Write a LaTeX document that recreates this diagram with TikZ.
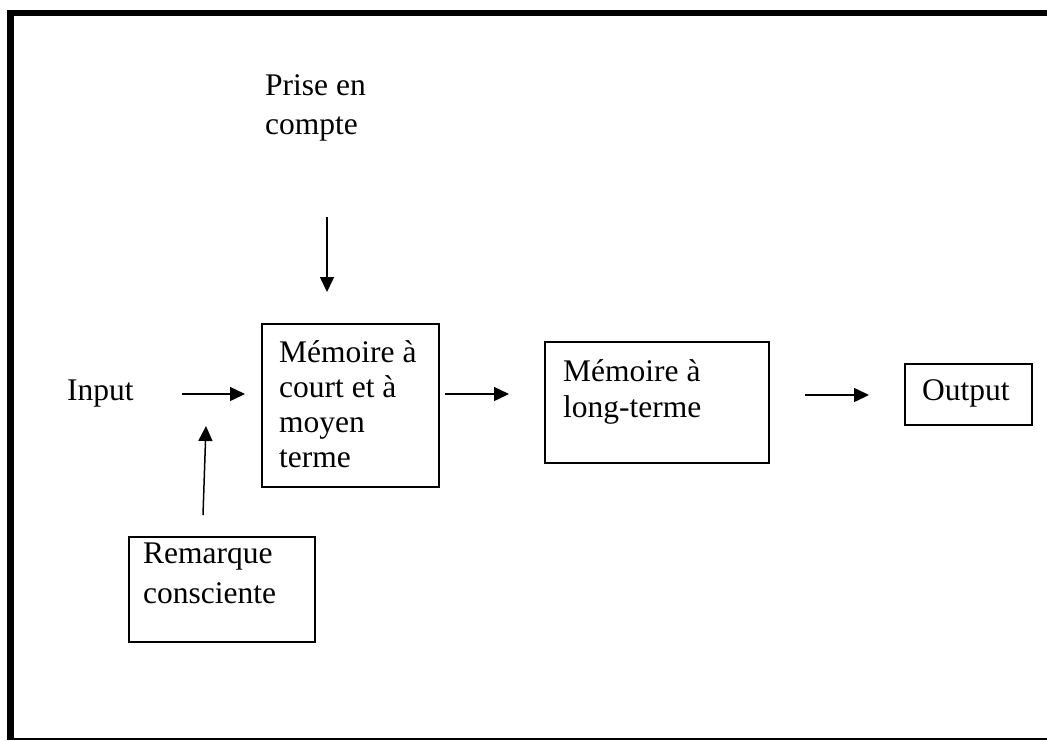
\documentclass[tikz,border=0pt]{standalone}
\usepackage{fontspec}
\setmainfont{Liberation Serif}
\usetikzlibrary{arrows.meta}

\begin{document}
\begin{tikzpicture}[x=1pt, y=-1pt,
      boite/.style={draw, line width=2pt, inner sep=0pt, anchor=north west},
      texte/.style={font=\fontsize{31.5}{36}\selectfont, align=left, inner sep=0pt, anchor=base west},
      fleche/.style={-{Triangle[length=15pt,width=14pt]}, line width=1.5pt}]
      \useasboundingbox (0,0) rectangle (1047,740);
      % Frame
      \draw[line width=6.5pt, line join=miter] (10.5,740) -- (10.5,12.75) -- (1047,12.75);
      \draw[line width=1.5pt] (14,739) -- (1047,739);

      % Define nodes (boxes)
      \node[boite, minimum width=177pt, minimum height=163pt] (stm) at (261,323) {};
      \node[boite, minimum width=224pt, minimum height=121pt] (ltm) at (544,341) {};
      \node[boite, minimum width=127pt, minimum height=61pt] (output) at (904,363) {};
      \node[boite, minimum width=186pt, minimum height=105pt] (remarque) at (128,536) {};

      % Texts, placed at the baseline of their last line
      \node[texte, font=\fontsize{31.5}{39}\selectfont] (prise) at (265,134) {Prise en\\compte};
      \node[texte] (input) at (67,400) {Input};
      \node[texte, font=\fontsize{31.5}{35}\selectfont] (stmtxt) at (279,467) {Mémoire à\\court et à\\moyen\\terme};
      \node[texte, font=\fontsize{31.5}{36}\selectfont] (ltmtxt) at (563,417) {Mémoire à\\long-terme};
      \node[texte] (outtxt) at (922,400) {Output};
      \node[texte, font=\fontsize{31.5}{40}\selectfont] (remtxt) at (143,603) {Remarque\\consciente};

      % Arrow ends
      \coordinate (p1) at (327,217);
      \coordinate (p2) at (327,292);
      \coordinate (i1) at (182,394);
      \coordinate (i2) at (245,394);
      \coordinate (r1) at (203,515);
      \coordinate (r2) at (206,426);
      \coordinate (s1) at (445,394);
      \coordinate (s2) at (509,394);
      \coordinate (l1) at (805,395);
      \coordinate (l2) at (869,395);

      % Connect nodes with arrows
      \draw[fleche] (p1) -- (p2);
      \draw[fleche] (i1) -- (i2);
      \draw[fleche] (r1) -- (r2);
      \draw[fleche] (s1) -- (s2);
      \draw[fleche] (l1) -- (l2);
    \end{tikzpicture}
\end{document}
